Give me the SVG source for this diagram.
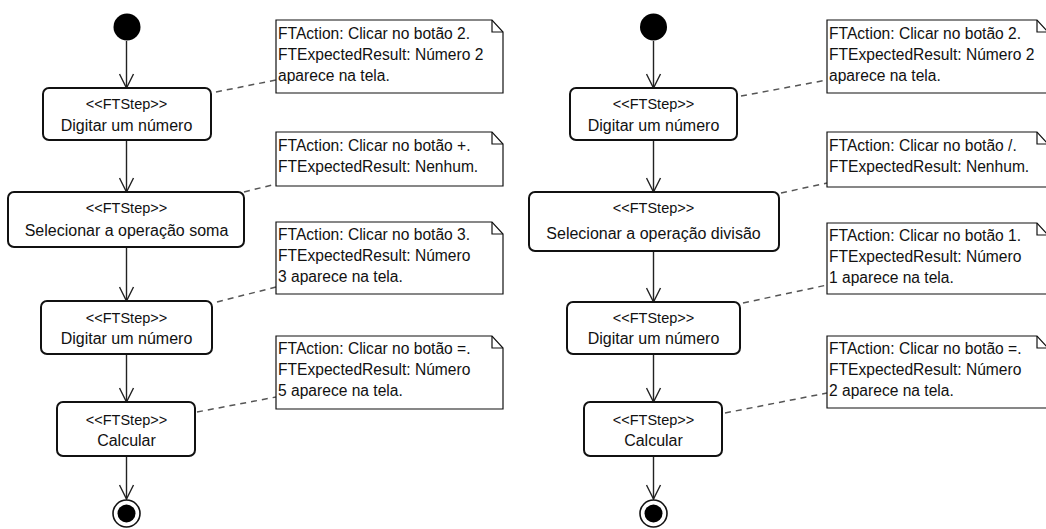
<svg xmlns="http://www.w3.org/2000/svg" width="1046" height="529" viewBox="0 0 1046 529">
  <defs>
    <marker id="open-arrow" viewBox="0 0 16 16" refX="15" refY="8" markerWidth="16" markerHeight="16" markerUnits="userSpaceOnUse" orient="auto">
      <path d="M1,1 L15,8 L1,15" fill="none" stroke="#222" stroke-width="1.4"/>
    </marker>
    <style>
      .step { fill: #fff; stroke: #111; stroke-width: 2; }
      .st { font-family: "Liberation Sans", Arial, sans-serif; font-size: 14.5px; fill: #111; text-anchor: middle; }
      .nm { font-family: "Liberation Sans", Arial, sans-serif; font-size: 16px; fill: #111; text-anchor: middle; }
      .note { fill: #fff; stroke: #111; stroke-width: 1.2; }
      .fold { fill: none; stroke: #111; stroke-width: 1.2; }
      .nt { font-family: "Liberation Sans", Arial, sans-serif; font-size: 15.6px; fill: #111; }
      .flow { fill: none; stroke: #222; stroke-width: 1.4; marker-end: url(#open-arrow); }
      .anchor { fill: none; stroke: #555; stroke-width: 1.5; stroke-dasharray: 6 5; }
      .start { fill: #000; }
      .end-ring { fill: #fff; stroke: #111; stroke-width: 1.6; }
      .end-dot { fill: #000; }
    </style>
  </defs>

  <rect width="1046" height="529" fill="#fff"/>

  <!-- control flow and note anchors -->
  <g id="connectors">
    <!-- left activity: soma -->
    <line class="flow" x1="126.5" y1="41" x2="126.5" y2="88"/>
    <line class="flow" x1="126.5" y1="140" x2="126.5" y2="192"/>
    <line class="flow" x1="126.5" y1="247" x2="126.5" y2="301"/>
    <line class="flow" x1="126.5" y1="354" x2="126.5" y2="402"/>
    <line class="flow" x1="126.5" y1="456" x2="126.5" y2="499"/>
    <line class="anchor" x1="216" y1="92" x2="276" y2="80"/>
    <line class="anchor" x1="244" y1="192" x2="276" y2="184"/>
    <line class="anchor" x1="217" y1="302" x2="276" y2="287"/>
    <line class="anchor" x1="197" y1="412" x2="276" y2="397"/>
    <!-- right activity: divisão -->
    <line class="flow" x1="653.5" y1="41" x2="653.5" y2="88"/>
    <line class="flow" x1="653.5" y1="140" x2="653.5" y2="192"/>
    <line class="flow" x1="653.5" y1="251" x2="653.5" y2="302"/>
    <line class="flow" x1="653.5" y1="354" x2="653.5" y2="402"/>
    <line class="flow" x1="653.5" y1="456" x2="653.5" y2="499"/>
    <line class="anchor" x1="741" y1="96" x2="827" y2="80"/>
    <line class="anchor" x1="781" y1="193" x2="827" y2="183"/>
    <line class="anchor" x1="743" y1="303" x2="827" y2="285"/>
    <line class="anchor" x1="725" y1="413" x2="827" y2="393"/>
  </g>

  <!-- left activity -->
  <g id="start-a"><circle class="start" cx="127" cy="27" r="13.5"/></g>

  <g id="a-step1">
    <rect class="step" x="43" y="88" width="168" height="52" rx="6"/>
    <text class="st" x="126.5" y="109">&lt;&lt;FTStep&gt;&gt;</text>
    <text class="nm" x="126.5" y="131">Digitar um número</text>
  </g>
  <g id="a-step2">
    <rect class="step" x="8" y="192" width="236" height="55" rx="6"/>
    <text class="st" x="126.5" y="213">&lt;&lt;FTStep&gt;&gt;</text>
    <text class="nm" x="126.5" y="236">Selecionar a operação soma</text>
  </g>
  <g id="a-step3">
    <rect class="step" x="41" y="301" width="171" height="53" rx="6"/>
    <text class="st" x="126.5" y="323">&lt;&lt;FTStep&gt;&gt;</text>
    <text class="nm" x="126.5" y="344">Digitar um número</text>
  </g>
  <g id="a-step4">
    <rect class="step" x="57" y="402" width="138" height="54" rx="6"/>
    <text class="st" x="126.5" y="425">&lt;&lt;FTStep&gt;&gt;</text>
    <text class="nm" x="126.5" y="446">Calcular</text>
  </g>

  <g id="end-a">
    <circle class="end-ring" cx="126.5" cy="513.5" r="13.5"/>
    <circle class="end-dot" cx="126.5" cy="513.5" r="9"/>
  </g>

  <g id="a-note1">
    <path class="note" d="M276,20 H492 L503,32 V93 H276 Z"/>
    <path class="fold" d="M492,20 V32 H503"/>
    <text class="nt" x="278" y="39">FTAction: Clicar no botão 2.</text>
    <text class="nt" x="278" y="60">FTExpectedResult: Número 2</text>
    <text class="nt" x="278" y="81">aparece na tela.</text>
  </g>
  <g id="a-note2">
    <path class="note" d="M276,132 H492 L503,144 V186 H276 Z"/>
    <path class="fold" d="M492,132 V144 H503"/>
    <text class="nt" x="278" y="151">FTAction: Clicar no botão +.</text>
    <text class="nt" x="278" y="172">FTExpectedResult: Nenhum.</text>
  </g>
  <g id="a-note3">
    <path class="note" d="M276,222 H492 L503,234 V294 H276 Z"/>
    <path class="fold" d="M492,222 V234 H503"/>
    <text class="nt" x="278" y="240">FTAction: Clicar no botão 3.</text>
    <text class="nt" x="278" y="261">FTExpectedResult: Número</text>
    <text class="nt" x="278" y="282">3 aparece na tela.</text>
  </g>
  <g id="a-note4">
    <path class="note" d="M276,336 H492 L503,348 V409 H276 Z"/>
    <path class="fold" d="M492,336 V348 H503"/>
    <text class="nt" x="278" y="354">FTAction: Clicar no botão =.</text>
    <text class="nt" x="278" y="375">FTExpectedResult: Número</text>
    <text class="nt" x="278" y="396">5 aparece na tela.</text>
  </g>

  <!-- right activity -->
  <g id="start-b"><circle class="start" cx="653.5" cy="27" r="13.5"/></g>

  <g id="b-step1">
    <rect class="step" x="570" y="88" width="167" height="52" rx="6"/>
    <text class="st" x="653.5" y="109">&lt;&lt;FTStep&gt;&gt;</text>
    <text class="nm" x="653.5" y="131">Digitar um número</text>
  </g>
  <g id="b-step2">
    <rect class="step" x="529" y="192" width="250" height="59" rx="6"/>
    <text class="st" x="653.5" y="213">&lt;&lt;FTStep&gt;&gt;</text>
    <text class="nm" x="653.5" y="239">Selecionar a operação divisão</text>
  </g>
  <g id="b-step3">
    <rect class="step" x="567" y="302" width="173" height="52" rx="6"/>
    <text class="st" x="653.5" y="323">&lt;&lt;FTStep&gt;&gt;</text>
    <text class="nm" x="653.5" y="344">Digitar um número</text>
  </g>
  <g id="b-step4">
    <rect class="step" x="584" y="402" width="138" height="54" rx="6"/>
    <text class="st" x="653.5" y="425">&lt;&lt;FTStep&gt;&gt;</text>
    <text class="nm" x="653.5" y="446">Calcular</text>
  </g>

  <g id="end-b">
    <circle class="end-ring" cx="653.5" cy="513.5" r="13.5"/>
    <circle class="end-dot" cx="653.5" cy="513.5" r="9"/>
  </g>

  <g id="b-note1">
    <path class="note" d="M827,20 H1037 L1048,32 V93 H827 Z"/>
    <path class="fold" d="M1037,20 V32 H1048"/>
    <text class="nt" x="829" y="39">FTAction: Clicar no botão 2.</text>
    <text class="nt" x="829" y="60">FTExpectedResult: Número 2</text>
    <text class="nt" x="829" y="81">aparece na tela.</text>
  </g>
  <g id="b-note2">
    <path class="note" d="M827,132 H1037 L1048,144 V187 H827 Z"/>
    <path class="fold" d="M1037,132 V144 H1048"/>
    <text class="nt" x="829" y="151">FTAction: Clicar no botão /.</text>
    <text class="nt" x="829" y="172">FTExpectedResult: Nenhum.</text>
  </g>
  <g id="b-note3">
    <path class="note" d="M827,223 H1037 L1048,235 V294 H827 Z"/>
    <path class="fold" d="M1037,223 V235 H1048"/>
    <text class="nt" x="829" y="241">FTAction: Clicar no botão 1.</text>
    <text class="nt" x="829" y="262">FTExpectedResult: Número</text>
    <text class="nt" x="829" y="283">1 aparece na tela.</text>
  </g>
  <g id="b-note4">
    <path class="note" d="M827,336 H1037 L1048,348 V408 H827 Z"/>
    <path class="fold" d="M1037,336 V348 H1048"/>
    <text class="nt" x="829" y="354">FTAction: Clicar no botão =.</text>
    <text class="nt" x="829" y="375">FTExpectedResult: Número</text>
    <text class="nt" x="829" y="396">2 aparece na tela.</text>
  </g>
</svg>
